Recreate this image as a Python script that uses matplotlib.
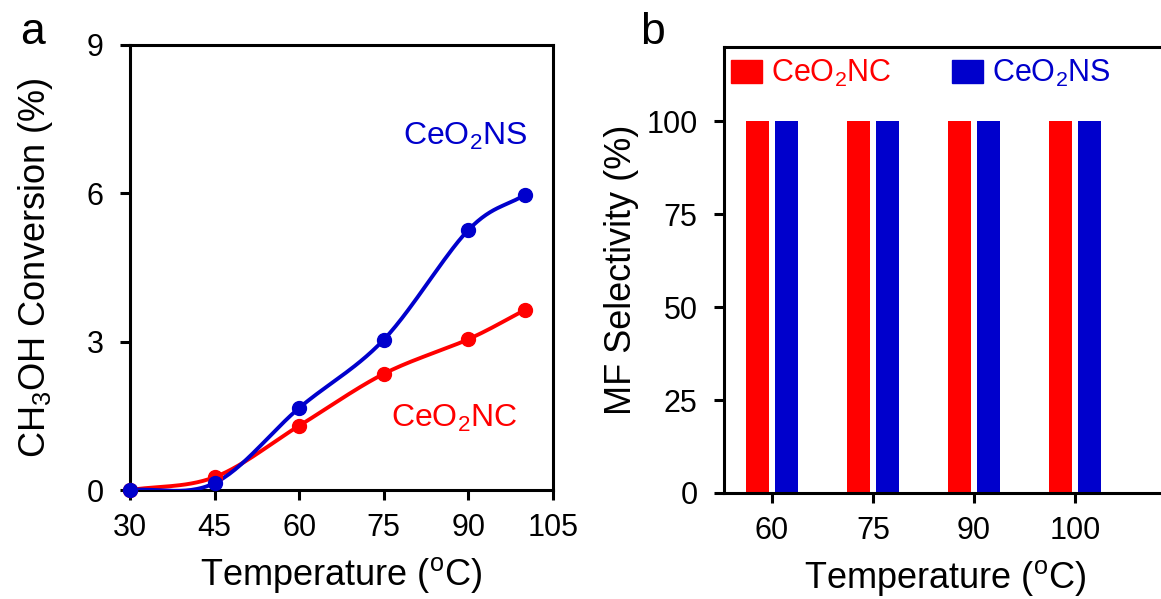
import numpy as np
import matplotlib.pyplot as plt
from matplotlib.patches import Patch

plt.rcParams["font.family"] = ["Liberation Sans", "DejaVu Sans"]
plt.rcParams["mathtext.fontset"] = "custom"
plt.rcParams["mathtext.rm"] = "Liberation Sans"
plt.rcParams["mathtext.default"] = "regular"

# panel a data
temps_a = [30, 45, 60, 75, 90, 100]
conv_ns = [0.0, 0.14, 1.66, 3.04, 5.26, 5.97]
conv_nc = [0.0, 0.26, 1.30, 2.35, 3.05, 3.64]

# panel b data
temps_b = ["60", "75", "90", "100"]
sel_nc = [100, 100, 100, 100]
sel_ns = [100, 100, 100, 100]

RED = "#FF0000"
BLUE = "#0000CC"


def smooth_line(x, y, n=30):
    # Catmull-Rom curve through the points, like an Excel smoothed line
    x = np.asarray(x, dtype=float)
    y = np.asarray(y, dtype=float)
    px = np.concatenate([[2 * x[0] - x[1]], x, [2 * x[-1] - x[-2]]])
    py = np.concatenate([[2 * y[0] - y[1]], y, [2 * y[-1] - y[-2]]])
    xs, ys = [], []
    t = np.linspace(0, 1, n)
    for i in range(1, len(px) - 2):
        for p, out in ((px, xs), (py, ys)):
            p0, p1, p2, p3 = p[i - 1], p[i], p[i + 1], p[i + 2]
            out.extend(0.5 * ((2 * p1) + (-p0 + p2) * t
                              + (2 * p0 - 5 * p1 + 4 * p2 - p3) * t ** 2
                              + (-p0 + 3 * p1 - 3 * p2 + p3) * t ** 3))
    return np.array(xs), np.array(ys)


def style_axes(ax):
    for s in ax.spines.values():
        s.set_linewidth(2.2)
    ax.tick_params(direction="out", length=7, width=2.2, labelsize=22)
    ax.tick_params(axis="x", pad=9.5)
    ax.tick_params(axis="y", pad=12)


fig = plt.figure(figsize=(11.61, 5.99), dpi=100)

# ---- panel a
ax_a = fig.add_axes([130 / 1161, 1 - 490 / 599, 423 / 1161, 445 / 599])
for yv, col in ((conv_nc, RED), (conv_ns, BLUE)):
    xs, ys = smooth_line(temps_a, yv)
    ax_a.plot(xs, ys, color=col, lw=2.8, zorder=3)
    ax_a.plot(temps_a, yv, "o", color=col, ms=10, zorder=4, clip_on=False)
ax_a.set_xlim(30, 105)
ax_a.set_ylim(0, 9)
ax_a.set_xticks([30, 45, 60, 75, 90, 105])
ax_a.set_yticks([0, 3, 6, 9])
style_axes(ax_a)
ax_a.set_xlabel("Temperature ($^o$C)", fontsize=26, labelpad=9)
ax_a.set_ylabel("CH$_3$OH Conversion (%)", fontsize=26, labelpad=23)
ax_a.text(89.4, 6.98, "CeO$_2$NS", color=BLUE, fontsize=23, ha="center", va="baseline")
ax_a.text(87.5, 1.28, "CeO$_2$NC", color=RED, fontsize=23, ha="center", va="baseline")
fig.text(20 / 1161, 1 - 44 / 599, "a", fontsize=32, ha="left", va="baseline")

# ---- panel b
ax_b = fig.add_axes([724 / 1161, 1 - 493 / 599, 442 / 1161, 446 / 599])
x = np.arange(len(temps_b))
w = 0.23
ax_b.bar(x - 0.145, sel_nc, width=w, color=RED, zorder=2)
ax_b.bar(x + 0.145, sel_ns, width=w, color=BLUE, zorder=2)
ax_b.set_xlim(-0.475, 3.9)
ax_b.set_ylim(0, 120)
ax_b.set_xticks(x)
ax_b.set_xticklabels(temps_b)
ax_b.set_yticks([0, 25, 50, 75, 100])
style_axes(ax_b)
ax_b.set_xlabel("Temperature ($^o$C)", fontsize=26, labelpad=9)
ax_b.set_ylabel("MF Selectivity (%)", fontsize=26, labelpad=5)
handles = [Patch(color=RED, label="CeO$_2$NC"), Patch(color=BLUE, label="CeO$_2$NS")]
ax_b.legend(handles=handles, ncol=2, loc="upper left", frameon=False,
            bbox_to_anchor=(731 / 1161, 1 - 58 / 599), bbox_transform=fig.transFigure,
            borderaxespad=0, borderpad=0, fontsize=22, labelcolor=[RED, BLUE],
            handlelength=1.0, handleheight=0.75, handletextpad=0.3, columnspacing=2.0)
fig.text(640 / 1161, 1 - 44 / 599, "b", fontsize=32, ha="left", va="baseline")

fig.savefig("out.png", dpi=100)
